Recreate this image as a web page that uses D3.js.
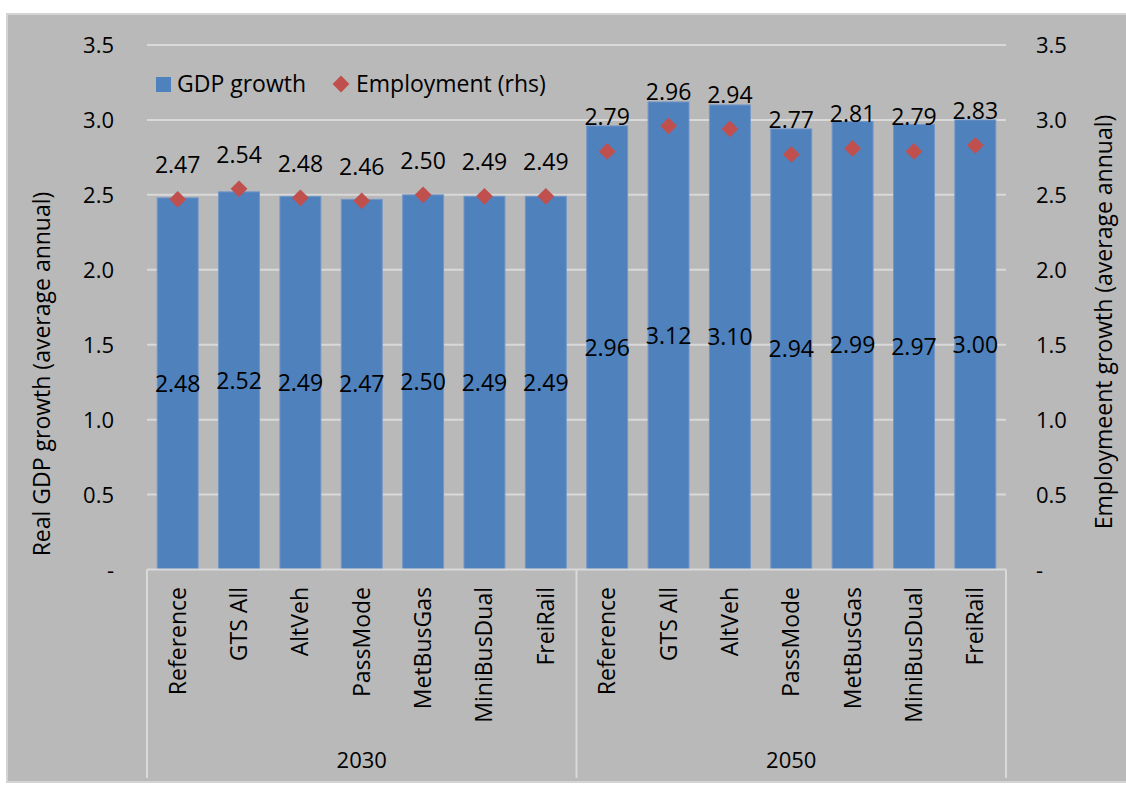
<!DOCTYPE html>
<html>
<head>
<meta charset="utf-8">
<script src="https://cdn.jsdelivr.net/npm/d3@7"></script>
<style>
  html, body { margin: 0; padding: 0; background: #fff; }
  svg text { font-family: "Open Sans", sans-serif; fill: #000; }
</style>
</head>
<body>
<div id="viz"></div>
<script>
const groups = ["2030", "2050"];
const scenarios = ["Reference", "GTS All", "AltVeh", "PassMode", "MetBusGas", "MiniBusDual", "FreiRail"];
const gdp2030 = [2.48, 2.52, 2.49, 2.47, 2.50, 2.49, 2.49];
const gdp2050 = [2.96, 3.12, 3.10, 2.94, 2.99, 2.97, 3.00];
const emp2030 = [2.47, 2.54, 2.48, 2.46, 2.50, 2.49, 2.49];
const emp2050 = [2.79, 2.96, 2.94, 2.77, 2.81, 2.79, 2.83];
const yTicks = [0, 0.5, 1.0, 1.5, 2.0, 2.5, 3.0, 3.5];

const W = 1126, H = 785;
const plot = { left: 147, right: 1006, top: 45, bottom: 569.5 };

const rows = [];
groups.forEach((g, gi) => {
  const gdp = gi === 0 ? gdp2030 : gdp2050;
  const emp = gi === 0 ? emp2030 : emp2050;
  scenarios.forEach((s, i) => rows.push({ key: g + "|" + s, group: g, name: s, gdp: gdp[i], emp: emp[i] }));
});

const svg = d3.select("#viz").append("svg").attr("width", W).attr("height", H);

// chart area
svg.append("rect").attr("x", 7).attr("y", 14).attr("width", W - 6).attr("height", 768)
  .attr("fill", "#b9b9b9").attr("stroke", "#d4d4d4").attr("stroke-width", 2);

const x = d3.scaleBand().domain(rows.map(d => d.key)).range([plot.left, plot.right]).paddingInner(0.333).paddingOuter(0.1665);
const y = d3.scaleLinear().domain([0, 3.5]).range([plot.bottom, plot.top]);
const y2 = d3.scaleLinear().domain([0, 3.5]).range([plot.bottom, plot.top]);

const fmtTick = v => v === 0 ? "-" : d3.format(".1f")(v);

// gridlines
svg.append("g").selectAll("line").data(yTicks.slice(1)).join("line")
  .attr("x1", plot.left).attr("x2", plot.right)
  .attr("y1", d => y(d)).attr("y2", d => y(d))
  .attr("stroke", "#d9d9d9").attr("stroke-width", 2);

// left axis
const yl = svg.append("g").attr("transform", `translate(${plot.left},0)`)
  .call(d3.axisLeft(y).tickValues(yTicks).tickFormat(fmtTick).tickSize(0).tickPadding(33));
yl.select(".domain").remove();
yl.selectAll("text").attr("font-size", 22).attr("dy", "0.35em");

// right axis
const yr = svg.append("g").attr("transform", `translate(${plot.right},0)`)
  .call(d3.axisRight(y2).tickValues(yTicks).tickFormat(fmtTick).tickSize(0).tickPadding(30));
yr.select(".domain").remove();
yr.selectAll("text").attr("font-size", 22).attr("dy", "0.35em");

// bars
svg.append("g").selectAll("rect").data(rows).join("rect")
  .attr("x", d => x(d.key)).attr("width", x.bandwidth())
  .attr("y", d => y(d.gdp)).attr("height", d => y(0) - y(d.gdp))
  .attr("fill", "#4f81bd").attr("stroke", "#7396c8").attr("stroke-width", 1);

// x axis line and group separators
svg.append("line").attr("x1", plot.left).attr("x2", plot.right).attr("y1", plot.bottom).attr("y2", plot.bottom)
  .attr("stroke", "#d9d9d9").attr("stroke-width", 2);
const step = x.step();
const seps = [plot.left, plot.left + step * scenarios.length, plot.right];
svg.append("g").selectAll("line").data(seps).join("line")
  .attr("x1", d => d).attr("x2", d => d).attr("y1", plot.bottom).attr("y2", 778)
  .attr("stroke", "#d9d9d9").attr("stroke-width", 2);

// category labels
svg.append("g").selectAll("text").data(rows).join("text")
  .attr("transform", d => `translate(${x(d.key) + x.bandwidth() / 2 + 8},587) rotate(-90)`)
  .attr("text-anchor", "end").attr("font-size", 23)
  .text(d => d.name);

// group labels
svg.append("g").selectAll("text").data(groups).join("text")
  .attr("x", (d, i) => (seps[i] + seps[i + 1]) / 2).attr("y", 768)
  .attr("text-anchor", "middle").attr("font-size", 22)
  .text(d => d);

// bar value labels
svg.append("g").selectAll("text").data(rows).join("text")
  .attr("x", d => x(d.key) + x.bandwidth() / 2)
  .attr("y", d => (y(d.gdp) + y(0)) / 2 + 8)
  .attr("text-anchor", "middle").attr("font-size", 23)
  .text(d => d3.format(".2f")(d.gdp));

// employment diamonds
const sym = d3.symbol().type(d3.symbolDiamond2).size(180);
svg.append("g").selectAll("path").data(rows).join("path")
  .attr("transform", d => `translate(${x(d.key) + x.bandwidth() / 2},${y2(d.emp)})`)
  .attr("d", sym).attr("fill", "#c0504d");

svg.append("g").selectAll("text").data(rows).join("text")
  .attr("x", d => x(d.key) + x.bandwidth() / 2)
  .attr("y", d => y2(d.emp) - 26)
  .attr("text-anchor", "middle").attr("font-size", 23)
  .text(d => d3.format(".2f")(d.emp));

// legend
const lg = svg.append("g");
lg.append("rect").attr("x", 156).attr("y", 77).attr("width", 15).attr("height", 15).attr("fill", "#4f81bd");
lg.append("text").attr("x", 177).attr("y", 92).attr("font-size", 23).text("GDP growth");
lg.append("path").attr("transform", "translate(341,84)").attr("d", sym).attr("fill", "#c0504d");
lg.append("text").attr("x", 356).attr("y", 92).attr("font-size", 23).text("Employment (rhs)");

// axis titles
svg.append("text").attr("transform", "translate(50,374) rotate(-90)")
  .attr("text-anchor", "middle").attr("font-size", 23).text("Real GDP growth (average annual)");
svg.append("text").attr("transform", "translate(1112,322) rotate(-90)")
  .attr("text-anchor", "middle").attr("font-size", 23).text("Employmeent growth (average annual)");
</script>
</body>
</html>
